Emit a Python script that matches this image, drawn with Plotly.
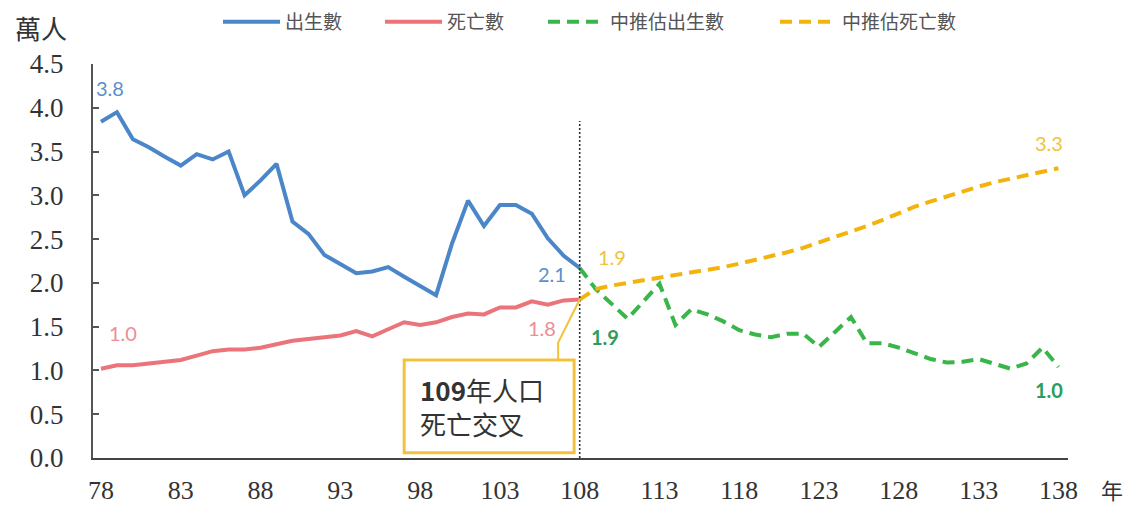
import plotly.graph_objects as go

# ---------------- data ----------------
years_obs = list(range(78, 109))
births = [3.84, 3.95, 3.64, 3.55, 3.44, 3.34, 3.47, 3.41, 3.50, 3.00,
          3.17, 3.36, 2.70, 2.56, 2.32, 2.22, 2.11, 2.13, 2.18, 2.07,
          1.96, 1.86, 2.45, 2.94, 2.65, 2.89, 2.89, 2.79, 2.51, 2.31, 2.17]
deaths = [1.02, 1.06, 1.06, 1.08, 1.10, 1.12, 1.17, 1.22, 1.24, 1.24,
          1.26, 1.30, 1.34, 1.36, 1.38, 1.40, 1.45, 1.39, 1.47, 1.55,
          1.52, 1.55, 1.61, 1.65, 1.64, 1.72, 1.72, 1.79, 1.75, 1.80, 1.81]

years_proj = list(range(108, 139))
births_proj = [2.17, 1.93, 1.76, 1.59, 1.79, 1.99, 1.52, 1.70, 1.64, 1.56,
               1.46, 1.41, 1.38, 1.42, 1.42, 1.27, 1.44, 1.61, 1.31, 1.31,
               1.26, 1.20, 1.13, 1.09, 1.10, 1.13, 1.08, 1.02, 1.08, 1.26, 1.04]
deaths_proj = [1.81, 1.93, 1.97, 2.00, 2.02, 2.05, 2.08, 2.11, 2.14, 2.18,
               2.22, 2.26, 2.30, 2.35, 2.40, 2.46, 2.52, 2.58, 2.65, 2.72,
               2.80, 2.87, 2.93, 2.99, 3.05, 3.10, 3.15, 3.19, 3.23, 3.27, 3.31]

series_names = ["出生數", "死亡數", "中推估出生數", "中推估死亡數"]
x_tick_vals = list(range(78, 139, 5))
x_tick_text = [str(v) for v in x_tick_vals]
y_tick_vals = [0.0, 0.5, 1.0, 1.5, 2.0, 2.5, 3.0, 3.5, 4.0, 4.5]
y_unit = "萬人"
x_unit = "年"
callout_text = "<b>109</b>年人口<br>死亡交叉"
divider_year = 108
divider_top = 3.85

# ---------------- style ----------------
C_BLUE = "#4a86c8"
C_RED = "#ea7479"
C_GREEN = "#3ab54a"
C_YELLOW = "#f2b40c"
L_BLUE = "#5b8fcb"
L_RED = "#ec8c96"
L_YELLOW = "#f2c23c"
L_GREEN = "#2d9d5c"
CJK = "Noto Sans CJK TC"
SERIF = "Liberation Serif"
LABEL_FONT = "Lato"

# page body has an 8px default margin; shrink/offset the figure so it fits the window
OFF = 8
W, H = 1132 - OFF, 506 - OFF
ML, MT = 93 - OFF, 64 - OFF
MR, MB = 64, 48
PW = W - ML - MR
PH = H - MT - MB


def px_to_paper_x(px):
    return (px - OFF - ML) / PW


def px_to_paper_y(py):
    return (H - MB - (py - OFF)) / PH


fig = go.Figure()

fig.add_trace(go.Scatter(x=years_obs, y=births, mode="lines", name=series_names[0],
                         line=dict(color=C_BLUE, width=4), legend="legend"))
fig.add_trace(go.Scatter(x=years_obs, y=deaths, mode="lines", name=series_names[1],
                         line=dict(color=C_RED, width=4), legend="legend2"))
fig.add_trace(go.Scatter(x=years_proj, y=births_proj, mode="lines", name=series_names[2],
                         line=dict(color=C_GREEN, width=4, dash="12px,7px"), legend="legend3"))
fig.add_trace(go.Scatter(x=years_proj, y=deaths_proj, mode="lines", name=series_names[3],
                         line=dict(color=C_YELLOW, width=4, dash="12px,7px"), legend="legend4"))

# vertical divider
fig.add_shape(type="line", xref="x", yref="y", x0=divider_year, x1=divider_year,
              y0=0, y1=divider_top, line=dict(color="#333333", width=1.6, dash="2px,2px"),
              layer="above")

# callout connector to the crossing point
tip_x = years_obs[-1]
tip_y = deaths[-1]
box_x0, box_x1 = 97.0, 107.65
box_y0, box_y1 = 0.06, 1.12
elbow_x = 106.65
fig.add_shape(type="path", xref="x", yref="y",
              path=f"M {elbow_x} {box_y1} L {elbow_x} {box_y1 + 0.2} L {tip_x} {tip_y}",
              line=dict(color=L_YELLOW, width=2))
fig.add_shape(type="rect", xref="x", yref="y", x0=box_x0, x1=box_x1, y0=box_y0, y1=box_y1,
              line=dict(color=L_YELLOW, width=3), fillcolor="white", layer="above")
fig.add_annotation(x=box_x0, y=(box_y0 + box_y1) / 2, xref="x", yref="y",
                   text=callout_text, showarrow=False, xanchor="left", yanchor="middle",
                   align="left", xshift=14,
                   font=dict(family=CJK, size=26, color="#333333"))

# data labels
labels = [
    (years_obs[0], births[0], "3.8", L_BLUE, False, 9, 34),
    (years_obs[0], deaths[0], "1.0", L_RED, False, 22, 36),
    (years_obs[-1], births[-1], "2.1", L_BLUE, False, -28, -6),
    (years_obs[-1], deaths[-1], "1.8", L_RED, False, -38, -28),
    (years_proj[1], deaths_proj[1], "1.9", L_YELLOW, False, 16, 32),
    (years_proj[1], births_proj[1], "1.9", L_GREEN, True, 9, -48),
    (years_proj[-1], deaths_proj[-1], "3.3", L_YELLOW, False, -9, 25),
    (years_proj[-1], births_proj[-1], "1.0", L_GREEN, True, -9, -23),
]
for lx, ly, lt, lc, bold, dx, dy in labels:
    fig.add_annotation(x=lx, y=ly, xref="x", yref="y",
                       text=f"<b>{lt}</b>" if bold else lt, showarrow=False,
                       xshift=dx, yshift=dy, xanchor="center", yanchor="middle",
                       font=dict(family=LABEL_FONT, size=20, color=lc))

# unit labels
fig.add_annotation(x=px_to_paper_x(41), y=px_to_paper_y(28), xref="paper", yref="paper",
                   xanchor="center", yanchor="middle",
                   text=y_unit, showarrow=False, font=dict(family=CJK, size=26, color="#333333"))
fig.add_annotation(x=px_to_paper_x(1112), y=px_to_paper_y(489), xref="paper", yref="paper",
                   xanchor="center", yanchor="middle",
                   text=x_unit, showarrow=False, font=dict(family=CJK, size=22, color="#333333"))

leg_common = dict(orientation="h", yanchor="middle", xanchor="left",
                  bgcolor="rgba(0,0,0,0)", borderwidth=0, itemwidth=57,
                  font=dict(family=CJK, size=19, color="#555555"))
leg_y = px_to_paper_y(22)

fig.update_layout(
    width=W, height=H,
    margin=dict(l=ML, r=MR, t=MT, b=MB, autoexpand=False),
    paper_bgcolor="white", plot_bgcolor="white",
    showlegend=True,
    legend=dict(x=px_to_paper_x(218), y=leg_y, **leg_common),
    legend2=dict(x=px_to_paper_x(380), y=leg_y, **leg_common),
    legend3=dict(x=px_to_paper_x(543), y=leg_y, **leg_common),
    legend4=dict(x=px_to_paper_x(775), y=leg_y, **leg_common),
    xaxis=dict(range=[77.5, 138.6], tickvals=x_tick_vals, ticktext=x_tick_text,
               showgrid=False, zeroline=False, showline=True, linecolor="#444444",
               linewidth=2, ticks="", ticklabelstandoff=8, automargin=False,
               tickfont=dict(family=SERIF, size=26, color="#333333")),
    yaxis=dict(range=[0, 4.5], tickvals=y_tick_vals, tickformat=".1f",
               showgrid=False, zeroline=False, showline=True, linecolor="#555555",
               linewidth=2, ticks="inside", ticklen=6, tickwidth=1.5, tickcolor="#555555",
               ticklabelstandoff=22, automargin=False,
               tickfont=dict(family=SERIF, size=27, color="#333333")),
)

fig.write_html("out.html")
